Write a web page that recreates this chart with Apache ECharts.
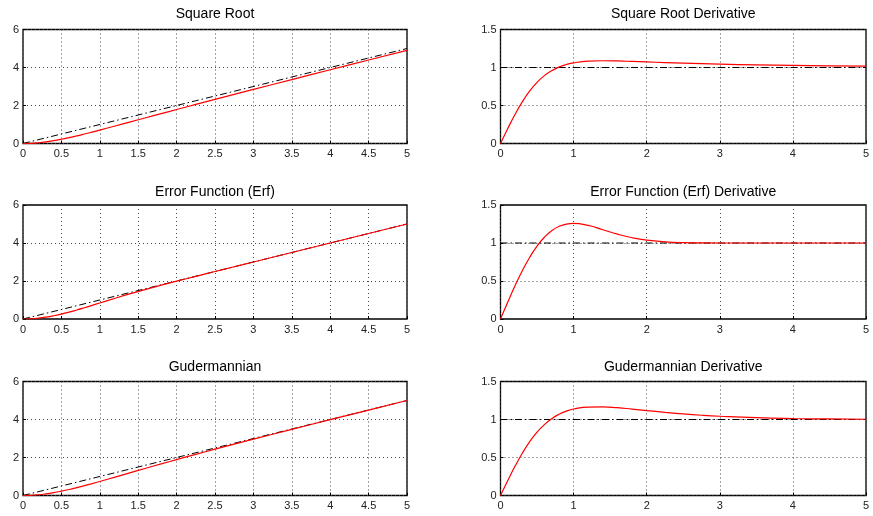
<!DOCTYPE html>
<html>
<head>
<meta charset="utf-8">
<script src="https://cdn.jsdelivr.net/npm/echarts@6/dist/echarts.min.js"></script>
<style>
  html, body { margin: 0; padding: 0; background: #fff; }
  #main { width: 873px; height: 516px; }
</style>
</head>
<body>
<div id="main"></div>
<script>
// sample positions along x
const xs = [0, 0.1, 0.2, 0.3, 0.4, 0.5, 0.6, 0.7, 0.8, 0.9, 1.0, 1.2, 1.4, 1.6, 1.8, 2.0, 2.25, 2.5, 2.75, 3.0, 3.5, 4.0, 4.5, 5.0]

// curves
const sqrtVals  = [0, 0.010, 0.039, 0.086, 0.149, 0.224, 0.309, 0.401, 0.500, 0.602, 0.707, 0.922, 1.139, 1.357, 1.574, 1.789, 2.056, 2.321, 2.584, 2.846, 3.365, 3.881, 4.393, 4.903]
const sqrtDeriv = [0, 0.198, 0.385, 0.551, 0.692, 0.805, 0.893, 0.958, 1.006, 1.039, 1.061, 1.083, 1.089, 1.086, 1.080, 1.073, 1.065, 1.057, 1.050, 1.044, 1.034, 1.027, 1.022, 1.018]
const erfVals   = [0, 0.011, 0.045, 0.099, 0.171, 0.260, 0.362, 0.475, 0.594, 0.717, 0.843, 1.092, 1.333, 1.562, 1.780, 1.991, 2.247, 2.499, 2.750, 3.000, 3.500, 4.000, 4.500, 5.000]
const erfDeriv  = [0, 0.224, 0.440, 0.638, 0.813, 0.960, 1.076, 1.162, 1.218, 1.249, 1.258, 1.231, 1.175, 1.116, 1.069, 1.037, 1.015, 1.005, 1.002, 1.000, 1.000, 1.000, 1.000, 1.000]
const gudVals   = [0, 0.010, 0.039, 0.087, 0.150, 0.228, 0.316, 0.414, 0.518, 0.626, 0.739, 0.970, 1.203, 1.435, 1.665, 1.890, 2.166, 2.437, 2.703, 2.966, 3.482, 3.991, 4.495, 4.998]
const gudDeriv  = [0, 0.198, 0.387, 0.559, 0.708, 0.833, 0.933, 1.011, 1.068, 1.110, 1.138, 1.164, 1.166, 1.155, 1.137, 1.118, 1.094, 1.073, 1.056, 1.043, 1.024, 1.013, 1.007, 1.003]

// reference lines
const identLine = [[0, 0], [5, 5]]
const unitLine  = [[0, 1], [5, 1]]

const titles = [
    'Square Root', 'Square Root Derivative',
    'Error Function (Erf)', 'Error Function (Erf) Derivative',
    'Gudermannian', 'Gudermannian Derivative'
]
const curves = [sqrtVals, sqrtDeriv, erfVals, erfDeriv, gudVals, gudDeriv]

const FONT = 'Liberation Sans'
const rowTop = [29.5, 205, 381.5]
const rowH = 114
const colLeft = [23, 500.5]
const colW = [384, 365.5]
const titleY = [7, 185, 360]

let grids = [], xAxes = [], yAxes = [], series = [], titleList = []

for (let i = 0; i < 6; i++) {
    let r = Math.floor(i / 2), c = i % 2
    grids.push({
        left: colLeft[c], top: rowTop[r], width: colW[c], height: rowH,
        show: true, borderColor: '#000', borderWidth: 1.3, backgroundColor: '#fff'
    })
    titleList.push({
        text: titles[i],
        left: colLeft[c] + colW[c] / 2, top: titleY[r], textAlign: 'center', padding: 0,
        textStyle: { fontFamily: FONT, fontSize: 14, fontWeight: 'normal', color: '#000' }
    })
    let gridLine = { show: true, lineStyle: { color: '#444', width: 1, type: [1, 3] } }
    xAxes.push({
        gridIndex: i, type: 'value', min: 0, max: 5, interval: c === 0 ? 0.5 : 1,
        axisLine: { show: false },
        axisTick: { show: true, inside: true, length: 3, lineStyle: { color: '#000' } },
        axisLabel: { fontFamily: FONT, fontSize: 11, color: '#222', margin: 5 },
        splitLine: gridLine
    })
    yAxes.push({
        gridIndex: i, type: 'value', min: 0, max: c === 0 ? 6 : 1.5, interval: c === 0 ? 2 : 0.5,
        axisLine: { show: false },
        axisTick: { show: true, inside: true, length: 3, lineStyle: { color: '#000' } },
        axisLabel: { fontFamily: FONT, fontSize: 11, color: '#222', margin: 4 },
        splitLine: gridLine
    })
    // black dash-dot reference first, red curve on top
    series.push({
        type: 'line', xAxisIndex: i, yAxisIndex: i, symbol: 'none', silent: true,
        data: c === 0 ? identLine : unitLine,
        lineStyle: { color: '#000', width: 1, type: [7, 3, 1.5, 3] }
    })
    series.push({
        type: 'line', xAxisIndex: i, yAxisIndex: i, symbol: 'none', smooth: true, silent: true,
        data: xs.map((x, k) => [x, curves[i][k]]),
        lineStyle: { color: '#ff0000', width: 1.2 }
    })
}

const chart = echarts.init(document.getElementById('main'))
chart.setOption({
    animation: false,
    backgroundColor: '#fff',
    title: titleList,
    grid: grids,
    xAxis: xAxes,
    yAxis: yAxes,
    series: series
})
</script>
</body>
</html>
